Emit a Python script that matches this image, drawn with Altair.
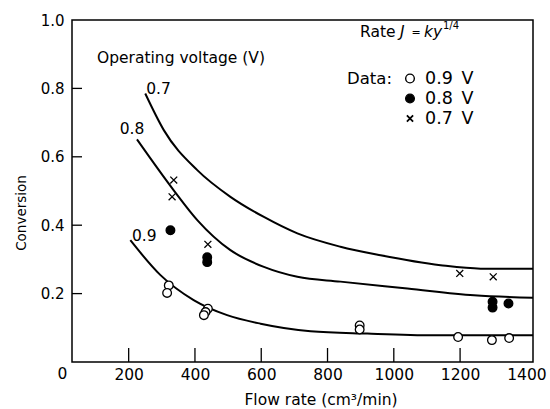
import altair as alt
import pandas as pd

FONT = "DejaVu Sans"

# model curves
c07_x = [250, 306, 407, 507, 608, 709, 839, 960, 1141, 1262, 1420]
c07_y = [0.785, 0.678, 0.561, 0.483, 0.424, 0.376, 0.337, 0.312, 0.283, 0.273, 0.273]
c08_x = [225, 336, 407, 507, 608, 709, 839, 1041, 1242, 1420]
c08_y = [0.651, 0.502, 0.415, 0.327, 0.278, 0.249, 0.235, 0.215, 0.195, 0.188]
c09_x = [205, 296, 396, 497, 598, 749, 920, 1121, 1420]
c09_y = [0.356, 0.254, 0.181, 0.137, 0.112, 0.090, 0.083, 0.078, 0.078]

# measured data
d09_x = [321, 316, 439, 432, 427, 897, 897, 1194, 1296, 1348]
d09_y = [0.224, 0.202, 0.156, 0.146, 0.137, 0.107, 0.095, 0.073, 0.064, 0.070]
d08_x = [326, 437, 437, 1298, 1298, 1346]
d08_y = [0.385, 0.306, 0.292, 0.176, 0.159, 0.171]
d07_x = [336, 331, 439, 1199, 1300]
d07_y = [0.532, 0.483, 0.344, 0.259, 0.249]

series_order = ["0.9 V", "0.8 V", "0.7 V"]
legend_labels = ["0.9\u2002V", "0.8\u2002V", "0.7\u2002V"]
x_tick_vals = [200, 400, 600, 800, 1000, 1200]
x_label_vals = [200, 400, 600, 800, 1000, 1200, 1400]
y_tick_vals = [0.2, 0.4, 0.6, 0.8]
y_label_vals = [0.2, 0.4, 0.6, 0.8, 1.0]

curves = pd.concat([
    pd.DataFrame({"x": c07_x, "y": c07_y, "c": "0.7"}),
    pd.DataFrame({"x": c08_x, "y": c08_y, "c": "0.8"}),
    pd.DataFrame({"x": c09_x, "y": c09_y, "c": "0.9"}),
])
pts = pd.concat([
    pd.DataFrame({"x": d09_x, "y": d09_y, "series": "0.9 V"}),
    pd.DataFrame({"x": d08_x, "y": d08_y, "series": "0.8 V"}),
    pd.DataFrame({"x": d07_x, "y": d07_y, "series": "0.7 V"}),
])

xs = alt.Scale(domain=[29, 1420], nice=False, zero=False)
ys = alt.Scale(domain=[0, 1], nice=False, zero=False)

xaxis = alt.Axis(values=x_label_vals, format="d", ticks=False, domain=False, grid=False, title=None,
                 labelFont=FONT, labelFontSize=15.5, labelColor="black", labelPadding=5,
                 labelFlush=False, labelOverlap=False)
yaxis = alt.Axis(values=y_label_vals, format=".1f", ticks=False, domain=False, grid=False,
                 title=None, labelFont=FONT, labelFontSize=15, labelColor="black",
                 labelPadding=8, labelFlush=False, labelOverlap=False)

lines = alt.Chart(curves).mark_line(color="black", strokeWidth=2, interpolate="monotone").encode(
    x=alt.X("x:Q", scale=xs, axis=xaxis),
    y=alt.Y("y:Q", scale=ys, axis=yaxis),
    detail="c:N",
)

XPATH = "M-0.8,-0.8L0.8,0.8M-0.8,0.8L0.8,-0.8"
SHAPES = ["circle", "circle", XPATH]
FILLS = ["white", "black", "white"]

points = alt.Chart(pts).mark_point(filled=True, stroke="black", strokeWidth=1.3, size=75, opacity=1).encode(
    x=alt.X("x:Q", scale=xs),
    y=alt.Y("y:Q", scale=ys),
    shape=alt.Shape("series:N", scale=alt.Scale(domain=series_order, range=SHAPES), legend=None),
    fill=alt.Fill("series:N", scale=alt.Scale(domain=series_order, range=FILLS), legend=None),
)

xt = alt.Chart(pd.DataFrame({"v": x_tick_vals})).mark_rule(color="black", strokeWidth=1.3).encode(
    x=alt.X("v:Q", scale=xs), y=alt.value(342), y2=alt.value(328))
yt = alt.Chart(pd.DataFrame({"v": y_tick_vals})).mark_rule(color="black", strokeWidth=1.3).encode(
    y=alt.Y("v:Q", scale=ys), x=alt.value(0), x2=alt.value(10))

def txt(t, x, y, size=15.5, align="left", baseline="alphabetic", style="normal", angle=0):
    return alt.Chart(pd.DataFrame({"t": [t]})).mark_text(
        font=FONT, fontSize=size, align=align, baseline=baseline, fontStyle=style,
        color="black", angle=angle).encode(text="t:N", x=x, y=y)

zero_lbl = txt("0", alt.datum(0), alt.value(354), size=15.5, align="center", baseline="middle")
lbl07 = txt("0.7", alt.datum(253), alt.datum(0.798), baseline="middle")
lbl08 = txt("0.8", alt.datum(173), alt.datum(0.681), baseline="middle")
lbl09 = txt("0.9", alt.datum(210), alt.datum(0.368), baseline="middle")
op = txt("Operating voltage (V)", alt.value(25), alt.value(43))
r1 = txt("Rate", alt.value(288), alt.value(17))
r2 = txt("J", alt.value(328), alt.value(17), style="italic")
r3 = txt("=", alt.value(339.5), alt.value(16), size=11)
r4 = txt("ky", alt.value(352), alt.value(17), style="italic")
r5 = txt("1/4", alt.value(371), alt.value(9), size=10)
xtitle = txt("Flow rate (cm³/min)", alt.value(249), alt.value(385), align="center")
ytitle = txt("Conversion", alt.value(-50), alt.value(193), size=13.5, align="center",
             baseline="middle", angle=270)

# hand-drawn legend ("Data:")
leg_title = txt("Data:", alt.value(275), alt.value(58.5), size=16.5, baseline="middle")
leg_rows_y = [58.5, 78.5, 98.5]
leg_parts = [leg_title]
for lab, shp, fll, ry in zip(legend_labels, SHAPES, FILLS, leg_rows_y):
    leg_parts.append(
        alt.Chart(pd.DataFrame({"s": [lab]})).mark_point(
            shape=shp, filled=True, fill=fll, stroke="black",
            strokeWidth=1.4 if shp == "circle" else 1.8,
            size=75 if shp == "circle" else 60, opacity=1
        ).encode(x=alt.value(338), y=alt.value(ry))
    )
    leg_parts.append(txt(lab, alt.value(353), alt.value(ry), size=17.5, baseline="middle"))

chart = alt.layer(lines, xt, yt, points, zero_lbl, lbl07, lbl08, lbl09, op,
                  r1, r2, r3, r4, r5, xtitle, ytitle, *leg_parts).properties(
    width=461, height=342,
    padding={"left": 72, "top": 20, "right": 17, "bottom": 47},
    autosize=alt.AutoSizeParams(type="none"),
    background="white",
).configure_view(stroke="black", strokeWidth=1.5)

chart.save("out.html", embed_options={"renderer": "svg", "actions": False})
